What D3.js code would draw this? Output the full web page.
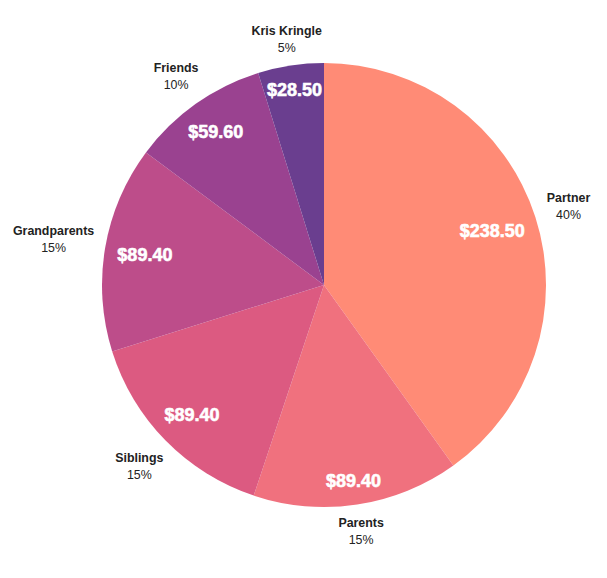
<!DOCTYPE html>
<html><head><meta charset="utf-8">
<script src="https://cdn.jsdelivr.net/npm/d3@7"></script>
<style>body{margin:0;background:#fff}svg{display:block}</style>
</head><body>
<script>
const categories = ["Partner","Parents","Siblings","Grandparents","Friends","Kris Kringle"];
const values = [238.50, 89.40, 89.40, 89.40, 59.60, 28.50];
const percentLabels = ["40%","15%","15%","15%","10%","5%"];
const colors = ["#ff8b76","#f0717e","#dc5a81","#bd4d8a","#9a4290","#6a3e8f"];

const W=607,H=578,cx=324,cy=285,R=222;
const FONT="'Liberation Sans',Arial,sans-serif";
const svg=d3.select("body").append("svg").attr("width",W).attr("height",H);
const g=svg.append("g").attr("transform",`translate(${cx},${cy})`);
const data=categories.map((c,i)=>({c,v:values[i],p:percentLabels[i],col:colors[i]}));
const pie=d3.pie().sort(null).value(d=>d.v);
const arcs=pie(data);
const arc=d3.arc().innerRadius(0).outerRadius(R);
g.selectAll("path").data(arcs).join("path").attr("d",arc).attr("fill",d=>d.data.col);

const mid=d=>(d.startAngle+d.endAngle)/2;

// place a box (half sizes hw,hh) along direction a so that a chosen distance criterion equals target
function solve(a,hw,hh,target,far){
  const sn=Math.sin(a), cs=-Math.cos(a);
  let lo=0,hi=400;
  for(let k=0;k<60;k++){
    const t=(lo+hi)/2, x=t*sn, y=t*cs;
    let px,py;
    if(far){px=Math.abs(x)+hw;py=Math.abs(y)+hh;}
    else{px=Math.max(0,Math.abs(x)-hw);py=Math.max(0,Math.abs(y)-hh);}
    const dist=Math.hypot(px,py);
    if(dist<target) lo=t; else hi=t;
  }
  const t=(lo+hi)/2;
  return [t*sn,t*cs];
}

// value labels inside
g.selectAll("text.val").data(arcs).join("text").attr("class","val")
 .attr("text-anchor","middle")
 .style("font-family",FONT)
 .style("font-weight","bold").style("font-size","18px")
 .style("fill","#fff").style("stroke","#fff").style("stroke-width","0.6px")
 .text(d=>"$"+d3.format(".2f")(d.data.v))
 .each(function(d){
   const hw=this.getComputedTextLength()/2, hh=7;
   const [x,y]=solve(mid(d),hw,hh,210,true);
   d3.select(this).attr("x",x).attr("y",y+6.5);
 });

// outer labels
const lab=g.selectAll("g.lab").data(arcs).join("g").attr("class","lab");
lab.each(function(d){
  const s=d3.select(this);
  const t1=s.append("text").attr("text-anchor","middle")
   .style("font-family",FONT).style("font-weight","bold")
   .style("font-size","12.4px").style("fill","#222").text(d.data.c);
  const t2=s.append("text").attr("text-anchor","middle")
   .style("font-family",FONT)
   .style("font-size","12.4px").style("fill","#222").text(d.data.p);
  const hw=Math.max(t1.node().getComputedTextLength(),t2.node().getComputedTextLength())/2;
  const [x,y]=solve(mid(d),hw,14,232,false);
  t1.attr("x",x).attr("y",y-4);
  t2.attr("x",x).attr("y",y+13);
});
</script>
</body></html>
